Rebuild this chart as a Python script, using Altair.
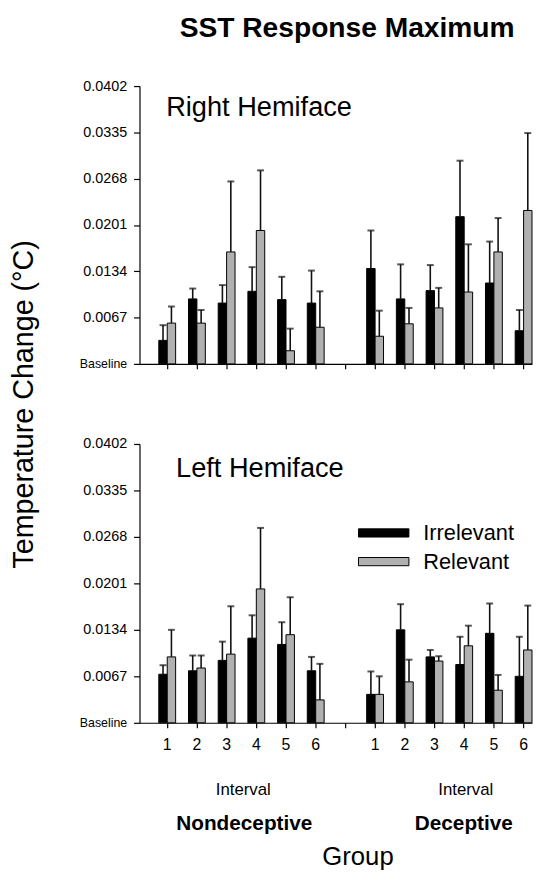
import altair as alt
import pandas as pd

FONT = "Liberation Sans"

# ---- categories -------------------------------------------------------------
nondeceptive_slots = ["N1", "N2", "N3", "N4", "N5", "N6"]
deceptive_slots = ["D1", "D2", "D3", "D4", "D5", "D6"]
slots = nondeceptive_slots + ["gap"] + deceptive_slots
bar_slots = nondeceptive_slots + deceptive_slots
series = ["Irrelevant", "Relevant"]
group_names = ["Nondeceptive", "Deceptive"]
interval_title = "Interval"
y_ticks = [0.0, 0.0067, 0.0134, 0.0201, 0.0268, 0.0335, 0.0402]

# ---- values ----------------------------------------------------------------
right_irrelevant_mean = [0.0034, 0.0094, 0.0088, 0.0105, 0.0093, 0.0088,
                         0.0138, 0.0094, 0.0106, 0.0213, 0.0117, 0.0048]
right_irrelevant_se = [0.0022, 0.0015, 0.0026, 0.0035, 0.0033, 0.0047,
                       0.0055, 0.0050, 0.0037, 0.0081, 0.0060, 0.0030]
right_relevant_mean = [0.0059, 0.0059, 0.0162, 0.0193, 0.0019, 0.0053,
                       0.0040, 0.0058, 0.0081, 0.0104, 0.0162, 0.0222]
right_relevant_se = [0.0024, 0.0019, 0.0102, 0.0087, 0.0032, 0.0052,
                     0.0037, 0.0023, 0.0029, 0.0069, 0.0049, 0.0112]

left_irrelevant_mean = [0.0070, 0.0075, 0.0090, 0.0122, 0.0113, 0.0075,
                        0.0041, 0.0134, 0.0095, 0.0084, 0.0129, 0.0067]
left_irrelevant_se = [0.0013, 0.0022, 0.0027, 0.0033, 0.0032, 0.0020,
                      0.0033, 0.0037, 0.0010, 0.0040, 0.0043, 0.0057]
left_relevant_mean = [0.0095, 0.0079, 0.0099, 0.0193, 0.0127, 0.0033,
                      0.0041, 0.0059, 0.0089, 0.0111, 0.0047, 0.0105]
left_relevant_se = [0.0039, 0.0018, 0.0069, 0.0088, 0.0054, 0.0052,
                    0.0026, 0.0032, 0.0007, 0.0029, 0.0022, 0.0064]


def make_df(irr_mean, irr_se, rel_mean, rel_se):
    rows = []
    for i, s in enumerate(bar_slots):
        rows.append({"slot": s, "series": series[0], "mean": irr_mean[i],
                     "top": irr_mean[i] + irr_se[i]})
        rows.append({"slot": s, "series": series[1], "mean": rel_mean[i],
                     "top": rel_mean[i] + rel_se[i]})
    return pd.DataFrame(rows)


right_df = make_df(right_irrelevant_mean, right_irrelevant_se,
                   right_relevant_mean, right_relevant_se)
left_df = make_df(left_irrelevant_mean, left_irrelevant_se,
                  left_relevant_mean, left_relevant_se)

# ---- scales -----------------------------------------------------------------
x_scale = alt.Scale(domain=slots, paddingInner=0.433, paddingOuter=0.325, align=1)
off_scale = alt.Scale(domain=series, paddingInner=0, paddingOuter=0)
y_scale = alt.Scale(domain=[0, 0.0402], nice=False, zero=True)
color_scale = alt.Scale(domain=series, range=["#000000", "#b0b0b0"])

W = 397

LABEL_EXPR = "datum.value == 0 ? 'Baseline' : format(datum.value, '.4f')"
LABEL_SIZE = {"condition": {"test": "datum.value == 0", "value": 12.5}, "value": 14.5}


def text_layer(txt, x, y, size, weight="normal", align="left"):
    return alt.Chart(alt.Data(values=[{}])).mark_text(
        text=txt, font=FONT, fontSize=size, fontWeight=weight, align=align,
        baseline="middle", color="black"
    ).encode(x=alt.value(x), y=alt.value(y))


def panel(df, hemi_label, lx, ly, height, bottom):
    x_axis = alt.Axis(title=None, labels=bottom, tickSize=5, labelFontSize=16,
                      labelPadding=9, labelAngle=0,
                      labelExpr="datum.value == 'gap' ? '' : substring(datum.value, 1)")
    if bottom:
        y_axis = alt.Axis(values=y_ticks, title=None, tickSize=6, labelPadding=7,
                          labelFontSize=LABEL_SIZE, labelExpr=LABEL_EXPR)
    else:
        y_axis = alt.Axis(values=y_ticks, title="Temperature Change (°C)", tickSize=6,
                          labelPadding=7, labelFontSize=LABEL_SIZE, labelExpr=LABEL_EXPR,
                          titleX=-117, titleY=321.5, titleAngle=270, titleAlign="center",
                          titleBaseline="middle", titleFontSize=29, titleFontWeight="normal")
    X = alt.X("slot:N", scale=x_scale, axis=x_axis)
    XO = alt.XOffset("series:N", scale=off_scale)

    if bottom:
        legend = alt.Legend(title=None, orient="none", legendX=217, legendY=79,
                            symbolType="M-4,-0.65L4,-0.65L4,0.65L-4,0.65Z",
                            symbolSize=162.6, symbolStrokeColor="black",
                            symbolStrokeWidth=1, symbolOffset=19, labelOffset=29,
                            labelFontSize=22, labelFont=FONT, labelColor="black",
                            rowPadding=7, padding=0, symbolOpacity=1)
    else:
        legend = None

    base = alt.Chart(df)
    bars = base.mark_bar(stroke="black", strokeWidth=1).encode(
        x=X, xOffset=XO,
        y=alt.Y("mean:Q", scale=y_scale, axis=y_axis),
        color=alt.Color("series:N", scale=color_scale, legend=legend),
    )
    rules = base.mark_rule(color="#111111", strokeWidth=1.6).encode(
        x=X, xOffset=XO,
        y=alt.Y("mean:Q", scale=y_scale, axis=y_axis),
        y2="top:Q",
    )
    caps = base.mark_tick(orient="horizontal", size=7, thickness=2,
                          color="#111111").encode(
        x=X, xOffset=XO,
        y=alt.Y("top:Q", scale=y_scale, axis=y_axis),
    )
    layers = [bars, rules, caps, text_layer(hemi_label, lx, ly, 27.5)]
    if not bottom:
        layers.append(text_layer("SST Response Maximum", 210, -59, 28.5,
                                 weight="bold", align="center"))
    else:
        layers += [
            text_layer(interval_title, 105, 350, 17, align="center"),
            text_layer(interval_title, 330, 350, 17, align="center"),
            text_layer(group_names[0], 106, 384, 21, weight="bold", align="center"),
            text_layer(group_names[1], 328, 384, 21, weight="bold", align="center"),
            text_layer("Group", 221, 418, 26, align="center"),
        ]
    return alt.layer(*layers).properties(width=W, height=height)


top = panel(right_df, "Right Hemiface", 27, 22, 281, False)
bottom = panel(left_df, "Left Hemiface", 37, 25, 282, True)

chart = alt.vconcat(top, bottom, spacing=81, bounds="flush").resolve_scale(
    color="independent"
).resolve_legend(color="independent").properties(
    padding={"left": 2, "top": 1, "right": 0, "bottom": 0}
).configure_view(stroke=None).configure_axis(
    grid=False, domainColor="black", tickColor="black", labelColor="black",
    labelFont=FONT, titleFont=FONT, titleColor="black", domainWidth=1.2, tickWidth=1.2
)

chart.save("out.html", embed_options={"renderer": "svg", "actions": False})
